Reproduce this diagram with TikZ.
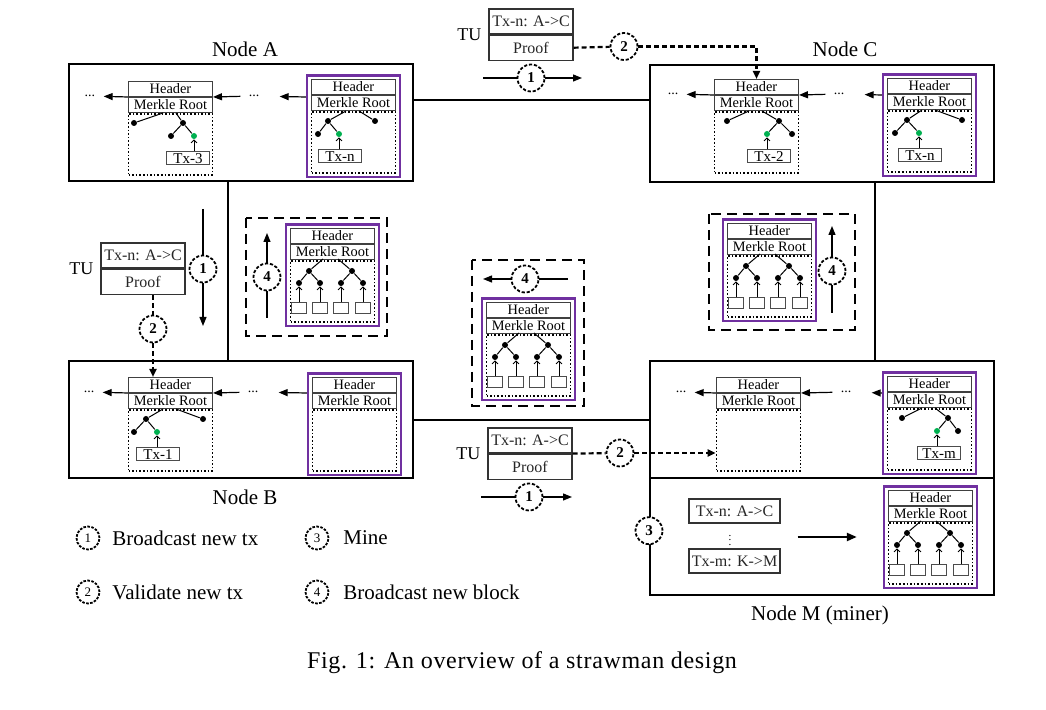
\documentclass[tikz,border=0pt]{standalone}
\usepackage{fontspec}
\setmainfont{Liberation Serif}
\usetikzlibrary{positioning,fit,arrows.meta}
\definecolor{mpurple}{HTML}{7030A0}
\definecolor{mgreen}{HTML}{00B050}

\tikzset{
  nodebox/.style={draw, line width=1.2pt, minimum width=172pt, minimum height=58.5pt, anchor=north west, inner sep=0pt},
  link/.style={line width=1pt},
  nodelabel/.style={font=\fontsize{10.5}{12}\selectfont},
  hdrrow/.style={draw=black!75, line width=0.5pt, fill=white, minimum width=42pt, minimum height=7.5pt, inner sep=0pt, font=\fontsize{7.2}{8}\selectfont},
  treebox/.style={draw, densely dotted, line width=0.8pt, minimum width=42pt, minimum height=30.5pt, inner sep=0pt},
  pbox/.style={draw=mpurple, line width=1.3pt, inner sep=1.8pt},
  bdot/.style={circle, fill=black, inner sep=0pt, minimum size=3pt},
  gdot/.style={circle, fill=mgreen, inner sep=0pt, minimum size=3pt},
  tline/.style={line width=0.5pt},
  txbox/.style={draw=black!70, line width=0.5pt, minimum width=21.5pt, minimum height=6.5pt, inner sep=0pt, font=\fontsize{7.5}{8}\selectfont},
  leafbox/.style={draw=black!70, line width=0.5pt, minimum width=7.5pt, minimum height=5.5pt, inner sep=0pt},
  txarr/.style={-{Straight Barb[length=1.5pt,width=3pt]}, line width=0.4pt},
  arr/.style={-{Triangle[length=4.5pt,width=3.5pt]}, line width=0.6pt},
  thinln/.style={line width=0.6pt},
  ellip/.style={font=\fontsize{7}{8}\selectfont, inner xsep=4pt, inner ysep=1pt},
  stepcirc/.style={circle, draw, dash pattern=on 1.6pt off 0.9pt, line width=0.9pt, fill=white, minimum size=13.5pt, inner sep=0pt, font=\bfseries\fontsize{7.5}{8}\selectfont},
  legcirc/.style={circle, draw, dash pattern=on 1.3pt off 0.7pt, line width=0.9pt, minimum size=11.5pt, inner sep=0pt, font=\fontsize{6.5}{7}\selectfont},
  legtext/.style={font=\fontsize{10.5}{12}\selectfont},
  dashln/.style={line width=1.1pt, dash pattern=on 2.5pt off 1.5pt},
  dasharr/.style={dashln, -{Triangle[length=4pt,width=3.5pt]}},
  tubox/.style={draw=black!80, line width=0.6pt, minimum width=42pt, minimum height=12.5pt, inner sep=0pt, text=black!85, font=\fontsize{8}{9}\selectfont},
  tulabel/.style={font=\fontsize{9}{10}\selectfont},
  mtxbox/.style={draw=black!80, line width=0.6pt, minimum width=45.5pt, minimum height=12pt, inner sep=0pt, text=black!85, font=\fontsize{8}{9}\selectfont},
  bcastbox/.style={line width=1.3pt, dash pattern=on 5pt off 3pt},
  bigarr/.style={-{Triangle[length=5pt,width=4pt]}, line width=1.1pt},
}

% block: Header, Merkle Root and tree area
\newcommand{\chainblk}[3]{%
  \node[hdrrow, anchor=north west] (#1h) at (#2,#3) {Header};
  \node[hdrrow, below=0pt of #1h] (#1m) {Merkle Root};
  \node[treebox, below=0pt of #1m] (#1t) {};
}

% partial merkle tree with one tx
\newcommand{\smalltree}[8]{%
  \begin{scope}[shift={(#1h.north west)}]
    \node[bdot] (#1l) at (#2,42) {};
    \node[bdot] (#1r) at (#3,42) {};
    \node[bdot] (#1a) at (#5,55) {};
    \node[gdot] (#1g) at (#6,55) {};
    \node[txbox] (#1x) at (#7,77.5) {#8};
    \draw[tline] (35,32) -- (#1l);
    \draw[tline] (48,32) -- (#1r);
    \draw[tline] (#1#4) -- (#1a);
    \draw[tline] (#1#4) -- (#1g);
    \draw[txarr] (#1x.north -| #1g) -- (#1g);
  \end{scope}
}

% full merkle tree with four txs
\newcommand{\fulltree}[1]{%
  \begin{scope}[shift={(#1h.north west)}]
    \node[bdot] (#1l) at (19,43) {};
    \node[bdot] (#1r) at (62,43) {};
    \node[bdot] (#1a) at (9,55) {};
    \node[bdot] (#1b) at (30,55) {};
    \node[bdot] (#1c) at (51,55) {};
    \node[bdot] (#1d) at (73,55) {};
    \node[leafbox] (#1la) at (9,80.5) {};
    \node[leafbox] (#1lb) at (30,80.5) {};
    \node[leafbox] (#1lc) at (51,80.5) {};
    \node[leafbox] (#1ld) at (73,80.5) {};
    \draw[tline] (33,31) -- (#1l);
    \draw[tline] (48,31) -- (#1r);
    \draw[tline] (#1l) -- (#1a);
    \draw[tline] (#1l) -- (#1b);
    \draw[tline] (#1r) -- (#1c);
    \draw[tline] (#1r) -- (#1d);
    \draw[txarr] (#1la) -- (#1a);
    \draw[txarr] (#1lb) -- (#1b);
    \draw[txarr] (#1lc) -- (#1c);
    \draw[txarr] (#1ld) -- (#1d);
  \end{scope}
}

\begin{document}
\begin{tikzpicture}[x=0.5pt, y=-0.5pt]
\useasboundingbox (0,0) rectangle (1046,710);

% peer nodes
\node[nodebox] (NA) at (68,63) {};
\node[nodebox] (NC) at (649,64) {};
\node[nodebox] (NB) at (68,360) {};
\node[nodebox] (NMa) at (649,360) {};
\node[nodebox] (NMb) at (649,477) {};
\node[nodelabel] (LA) at (245,49) {Node A};
\node[nodelabel] (LC) at (845,49) {Node C};
\node[nodelabel] (LB) at (245,497) {Node B};
\node[nodelabel] (LM) at (820,615) {Node M (miner)};

% network links
\path (NA.north east) ++(0,37) coordinate (ac);
\draw[link] (ac) -- (ac -| NC.west);
\path (NA.south west) ++(160,0) coordinate (ab);
\draw[link] (ab) -- (ab |- NB.north);
\path (NC.south west) ++(226,0) coordinate (cm);
\draw[link] (cm) -- (cm |- NMa.north);
\draw[link] (NB.east) -- (NMa.west);

% Node A
\chainblk{A1}{128}{81}
\smalltree{A1}{6}{55}{r}{43}{66}{60}{Tx-3}
\chainblk{A2}{311}{79}
\smalltree{A2}{17}{64}{l}{7}{28}{29}{Tx-n}
\node[pbox, fit=(A2h)(A2t)] (A2p) {};
\node[ellip] (A0) at (90,96) {...};
\node[ellip] (A00) at (254,96) {...};
\draw[arr] (A1h.south west) -- (A0);
\draw[arr] (A00) -- (A1h.south east);
\draw[arr, shorten >=6pt] (A2p.west |- A1h.south) -- (A00);

% Node C
\chainblk{C1}{714}{79}
\smalltree{C1}{13}{65}{r}{78}{53}{55}{Tx-2}
\chainblk{C2}{887}{78}
\smalltree{C2}{20}{75}{l}{8}{32}{33}{Tx-n}
\node[pbox, fit=(C2h)(C2t)] (C2p) {};
\node[ellip] (C0) at (673,94) {...};
\node[ellip] (C00) at (839,94) {...};
\draw[arr] (C1h.south west) -- (C0);
\draw[arr] (C00) -- (C1h.south east);
\draw[arr, shorten >=6pt] (C2p.west |- C1h.south) -- (C00);

% Node B
\chainblk{B1}{128}{377}
\smalltree{B1}{18}{75}{l}{6}{29}{30}{Tx-1}
\chainblk{B2}{312}{377}
\node[pbox, fit=(B2h)(B2t)] (B2p) {};
\node[ellip] (B0) at (89,392) {...};
\node[ellip] (B00) at (253,392) {...};
\draw[arr] (B1h.south west) -- (B0);
\draw[arr] (B00) -- (B1h.south east);
\draw[arr, shorten >=6pt] (B2p.west |- B2h.south) -- (B00);

% Node M
\chainblk{M1}{716}{377}
\chainblk{M2}{887}{376}
\smalltree{M2}{15}{61}{r}{71}{50}{52}{Tx-m}
\node[pbox, fit=(M2h)(M2t)] (M2p) {};
\node[ellip] (M0) at (681,392) {...};
\node[ellip] (M00) at (846,392) {...};
\draw[arr] (M1h.south west) -- (M0);
\draw[arr] (M00) -- (M1h.south east);
\draw[arr, shorten >=6pt] (M2p.west |- M1h.south) -- (M00);

% mining in Node M
\node[mtxbox] (TxN) at (734.5,511) {Tx-n: A->C};
\node[mtxbox] (TxM) at (734.5,561) {Tx-m: K->M};
\node[scale=0.55, inner sep=0pt] (vd) at (730,537) {$\vdots$};
\chainblk{M3}{888}{490}
\fulltree{M3}
\node[pbox, fit=(M3h)(M3t)] (M3p) {};
\draw[bigarr, shorten <=8.5pt, shorten >=13pt] (TxN.east |- vd) -- (M3p.west |- vd);
\node[stepcirc] (c3) at ([yshift=3pt]NMb.west) {3};

% TU broadcast A -> C
\node[tubox] (T1a) at (531,21.5) {Tx-n: A->C};
\node[tubox, below=0pt of T1a] (T1b) {Proof};
\node[tulabel, left=0pt of T1a.south west] (T1l) {TU};
\node[stepcirc] (c2a) at (624,46.5) {2};
\draw[dashln] (T1b.east) -- (c2a);
\draw[dasharr] (c2a) -| (C1h.north);
\coordinate (h1s) at (483,78);
\coordinate (h1e) at (582,78);
\node[stepcirc] (c1a) at (531,78) {1};
\draw[thinln] (h1s) -- (c1a);
\draw[arr] (c1a) -- (h1e);

% TU broadcast A -> B
\node[tubox] (T2a) at (143,255.5) {Tx-n: A->C};
\node[tubox, below=0pt of T2a] (T2b) {Proof};
\node[tulabel, left=0pt of T2a.south west] (T2l) {TU};
\node[stepcirc] (c2b) at (153,329) {2};
\draw[dashln] ([xshift=5pt]T2b.south) -- (c2b);
\draw[dasharr] (c2b) -- (c2b |- B1h.north);
\coordinate (v1s) at (203,209);
\coordinate (v1e) at (203,326);
\node[stepcirc] (c1b) at (203,269) {1};
\draw[thinln] (v1s) -- (c1b);
\draw[arr] (c1b) -- (v1e);

% TU broadcast B -> M
\node[tubox] (T3a) at (530,440.5) {Tx-n: A->C};
\node[tubox, below=0pt of T3a] (T3b) {Proof};
\node[tulabel, left=0pt of T3a.south west] (T3l) {TU};
\node[stepcirc] (c2c) at (620,453) {2};
\draw[dashln] (T3a.south east) -- (c2c);
\draw[dasharr] (c2c) -- (c2c -| M1t.west);
\coordinate (h2s) at (481,497);
\coordinate (h2e) at (572,497);
\node[stepcirc] (c1c) at (529,497) {1};
\draw[thinln] (h2s) -- (c1c);
\draw[arr] (c1c) -- (h2e);

% new block broadcast
\draw[bcastbox] (246,218) rectangle (387,336);
\chainblk{D1}{290}{228}
\fulltree{D1}
\node[pbox, fit=(D1h)(D1t)] (D1p) {};
\coordinate (d1s) at (267,318);
\coordinate (d1e) at (267,233);
\node[stepcirc] (c4a) at (267,277) {4};
\draw[thinln] (d1s) -- (c4a);
\draw[arr] (c4a) -- (d1e);

\draw[bcastbox] (472,260) rectangle (584,406);
\chainblk{D2}{486}{302}
\fulltree{D2}
\node[pbox, fit=(D2h)(D2t)] (D2p) {};
\coordinate (d2s) at (568,279);
\coordinate (d2e) at (483,279);
\node[stepcirc] (c4b) at (525,279) {4};
\draw[thinln] (d2s) -- (c4b);
\draw[arr] (c4b) -- (d2e);

\draw[bcastbox] (709,214) rectangle (855,330);
\chainblk{D3}{727}{223}
\fulltree{D3}
\node[pbox, fit=(D3h)(D3t)] (D3p) {};
\coordinate (d3s) at (832,313);
\coordinate (d3e) at (832,226);
\node[stepcirc] (c4c) at (832,271) {4};
\draw[thinln] (d3s) -- (c4c);
\draw[arr] (c4c) -- (d3e);

% legend
\node[legcirc] (L1) at (88,538) {1};
\node[legtext, right=2.5pt of L1] (L1t) {Broadcast new tx};
\node[legcirc] (L2) at (88,592) {2};
\node[legtext, right=2.5pt of L2] (L2t) {Validate new tx};
\node[legcirc] (L3) at (317,538) {3};
\node[legtext, right=3.5pt of L3] (L3t) {Mine};
\node[legcirc] (L4) at (317,592) {4};
\node[legtext, right=3.5pt of L4] (L4t) {Broadcast new block};

% caption
\node[font=\fontsize{12}{14}\selectfont\addfontfeature{LetterSpace=2.8}] (cap) at (522,663) {Fig. 1: An overview of a strawman design};
\end{tikzpicture}
\end{document}
